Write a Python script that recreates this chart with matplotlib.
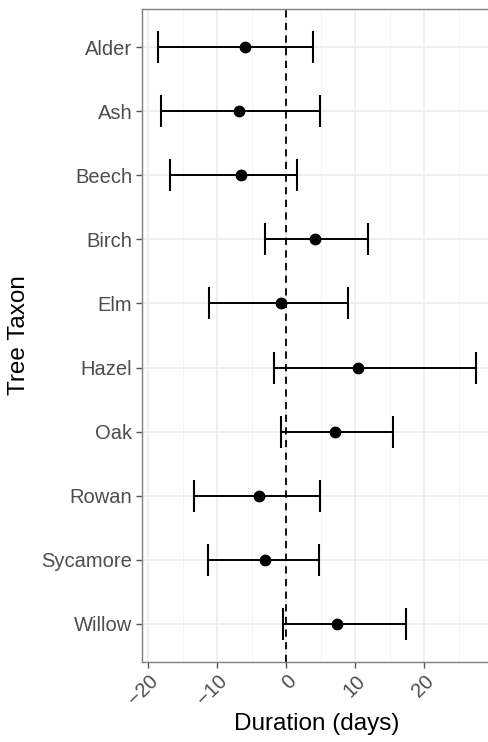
import matplotlib
matplotlib.use("Agg")
import matplotlib.pyplot as plt
from matplotlib.ticker import MultipleLocator

taxa = ["Alder", "Ash", "Beech", "Birch", "Elm", "Hazel", "Oak", "Rowan", "Sycamore", "Willow"]
estimate = [-6.0, -6.8, -6.5, 4.2, -0.8, 10.4, 7.1, -3.9, -3.1, 7.3]
lower = [-18.6, -18.1, -16.8, -3.0, -11.2, -1.7, -0.8, -13.3, -11.3, -0.5]
upper = [3.9, 4.9, 1.6, 11.9, 8.9, 27.5, 15.5, 4.9, 4.7, 17.4]
xticks = [-20, -10, 0, 10, 20]

plt.rcParams['font.family'] = ['Liberation Sans', 'DejaVu Sans']

W, H = 489, 742
fig = plt.figure(figsize=(W / 100, H / 100), dpi=100)
ax = fig.add_axes([142 / W, 1 - 662 / H, 1 - 142 / W + 0.005, (662 - 9) / H])

ypos = list(range(len(taxa)))
err_lo = [e - l for e, l in zip(estimate, lower)]
err_hi = [u - e for e, u in zip(estimate, upper)]
ax.errorbar(estimate, ypos, xerr=[err_lo, err_hi], fmt='o', color='black',
            ecolor='black', elinewidth=1.4, capsize=11.5, capthick=1.5,
            markersize=7.5, zorder=3)
ax.axvline(0, color='black', linestyle=(0, (4, 3)), linewidth=1.3, zorder=2)

ax.set_yticks(ypos)
ax.set_yticklabels(taxa)
ax.set_ylim(len(taxa) - 1 + 0.6, -0.6)
ax.set_xlim(-20.9, 29.75)
ax.set_xticks(xticks)
ax.set_xticklabels([str(t).replace('-', '\u2212') for t in xticks], rotation=45,
                   ha='right', va='top', rotation_mode='anchor')
ax.xaxis.set_minor_locator(MultipleLocator(5))
ax.grid(which='major', color='#EBEBEB', linewidth=1.1, zorder=0)
ax.grid(which='minor', axis='x', color='#F2F2F2', linewidth=0.6, zorder=0)
ax.set_axisbelow(True)

for s in ax.spines.values():
    s.set_color('#7F7F7F')
    s.set_linewidth(1.0)
ax.spines['right'].set_visible(False)

ax.tick_params(axis='both', which='major', color='#555555', length=4, width=1.0,
               labelsize=14.5, labelcolor='#4D4D4D', pad=3)
ax.tick_params(axis='x', which='minor', length=0)

ax.set_xlabel('Duration (days)', fontsize=17.5, color='black', labelpad=3)
ax.set_ylabel('Tree Taxon', fontsize=17.5, color='black', labelpad=8)

fig.savefig('out.png', dpi=100)
